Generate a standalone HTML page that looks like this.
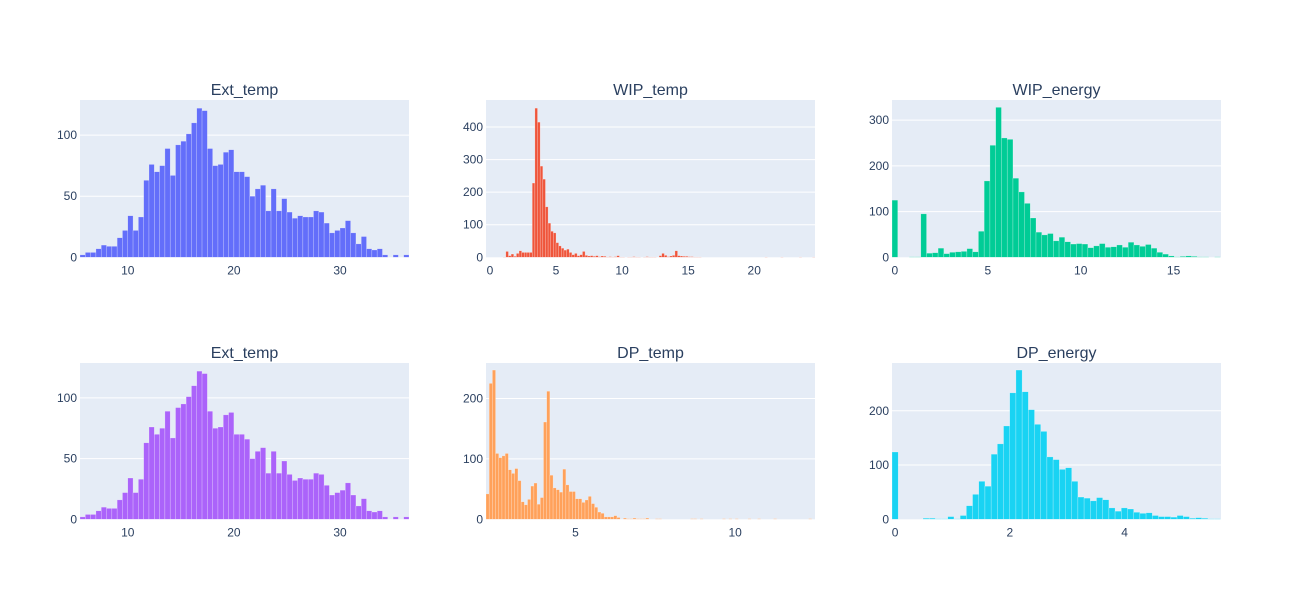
<!DOCTYPE html>
<html><head><meta charset="utf-8">
<style>
html,body{margin:0;padding:0;background:#fff;}
svg{display:block;font-family:"Liberation Sans",sans-serif;}
</style></head>
<body>
<svg id="chart" width="1300" height="600"></svg>
<script>
// ---- data arrays ----
const titles = ["Ext_temp","WIP_temp","WIP_energy","Ext_temp","DP_temp","DP_energy"];
const binStarts = [5.5, 0, -0.155, 5.5, 2.2, -0.054];
const binWidths = [0.5, 0.2, 0.31, 0.5, 0.1, 0.108];
const extTempCounts = [2,4,4,7,10,9,9,16,22,34,22,33,63,76,70,75,89,67,92,95,101,110,122,120,89,75,76,86,88,70,70,66,50,56,59,38,56,38,48,37,32,34,33,33,38,37,28,20,22,24,30,20,11,17,7,6,7,2,0,2,0,2];
const wipTempCounts = [0,0,0,0,0,1,18,5,10,3,12,20,15,15,15,15,228,458,415,280,240,155,105,80,75,45,35,28,22,25,15,8,12,5,8,18,6,4,5,3,5,2,4,3,1,2,1,2,5,1,1,0,1,1,2,1,1,0,1,2,1,1,1,0,5,12,6,2,4,6,20,5,4,3,3,2,2,1,1,1,0,0,0,0,0,0,0,0,0,0,0,0,0,0,0,0,0,0,0,0,0,0,0,0,1,0,0,0,0,0,1,0,0,0,0,0,0,1,0,0,0,0,1];
const wipEnergyCounts = [125,0,0,1,1,95,9,10,20,8,11,12,13,19,12,57,167,245,328,261,258,173,143,118,86,55,49,52,36,44,34,29,30,29,21,25,30,22,23,27,22,33,27,24,28,20,11,7,3,1,2,3,2,1,1,0,1];
const dpTempCounts = [42,225,247,109,102,105,109,82,76,84,64,29,24,33,55,60,25,36,161,212,73,52,49,45,83,57,46,46,34,34,28,32,38,26,20,12,10,4,4,4,6,3,0,2,1,1,2,1,1,1,2,0,0,1,1,0,0,0,0,0,0,0,0,0,1,1,0,1,0,0,0,0,0,0,1,0,1,0,1,0,0,0,1,0,0,1,0,0,0,0,1,0,0,0,0,0,0,0,0,0,0,1,0];
const dpEnergyCounts = [124,0,0,0,0,2,2,1,1,5,1,7,25,46,70,61,120,139,172,233,275,235,202,175,162,115,110,92,95,70,41,39,34,40,36,21,15,21,19,13,11,12,7,5,5,4,7,5,2,3,2,1,1];
const seriesCounts = [extTempCounts, wipTempCounts, wipEnergyCounts, extTempCounts, dpTempCounts, dpEnergyCounts];
const xRanges = [[5.5,36.5],[-0.3,24.6],[-0.155,17.55],[5.5,36.5],[2.2,12.5],[-0.054,5.68]];
const yMaxes = [128.7, 483, 344, 128.7, 258.7, 288];
const xTickLabels = [[10,20,30],[0,5,10,15,20],[0,5,10,15],[10,20,30],[5,10],[0,2,4]];
const yTickLabels = [[0,50,100],[0,100,200,300,400],[0,100,200,300],[0,50,100],[0,100,200],[0,100,200]];
const colors = ["#636efa","#EF553B","#00cc96","#ab63fa","#FFA15A","#19d3f3"];

// ---- layout ----
const NS="http://www.w3.org/2000/svg";
const svg=document.getElementById('chart');
const colX=[[80,409],[486,815],[892,1221]];
const rowY=[[100,257.3],[363,519.3]];
function mk(tag,attrs,parent){const e=document.createElementNS(NS,tag);for(const k in attrs)e.setAttribute(k,attrs[k]);(parent||svg).appendChild(e);return e;}

for(let p=0;p<6;p++){
  const [x0,x1]=colX[p%3], [y0,y1]=rowY[Math.floor(p/3)];
  const [xmin,xmax]=xRanges[p];
  const xs=v=>x0+(v-xmin)/(xmax-xmin)*(x1-x0);
  const ys=v=>y1-v/yMaxes[p]*(y1-y0);
  const g=mk('g',{});
  
  
  const bg=mk('rect',{x:x0,y:y0,width:x1-x0,height:y1-y0,fill:'#E5ECF6'},g);
  
  
  yTickLabels[p].forEach(t=>{
    const y=ys(t);
    if(t>0){const l=mk('line',{x1:x0,x2:x1,y1:y,y2:y,stroke:'#fff','stroke-width':1},g);
      
      }
    const tx=mk('text',{x:x0-3,y:y+4,'text-anchor':'end','font-size':12,fill:'#2a3f5f'},g);
    tx.textContent=t;
    
    
  });
  const counts=seriesCounts[p], w=binWidths[p], s=binStarts[p];
  const clip='clip'+p;
  const cp=mk('clipPath',{id:clip},g); mk('rect',{x:x0,y:y0,width:x1-x0,height:y1-y0},cp);
  const bars=mk('g',{'clip-path':'url(#'+clip+')'},g);
  counts.forEach((c,i)=>{
    if(c<=0)return;
    const a=xs(s+i*w), b=xs(s+(i+1)*w), top=ys(c);
    const r=mk('rect',{x:a,y:top,width:Math.max(b-a,0.5),height:y1-top,fill:colors[p],stroke:'rgba(255,255,255,0.45)','stroke-width':0.5},bars);
    
    
  });
  xTickLabels[p].forEach(t=>{
    const tx=mk('text',{x:xs(t),y:y1+17,'text-anchor':'middle','font-size':12,fill:'#2a3f5f'},g);
    tx.textContent=t;
    
    
  });
  const tt=mk('text',{x:(x0+x1)/2,y:y0-5,'text-anchor':'middle','font-size':16,fill:'#2a3f5f'},g);
  tt.textContent=titles[p];
  
  
}
</script>
</body></html>
